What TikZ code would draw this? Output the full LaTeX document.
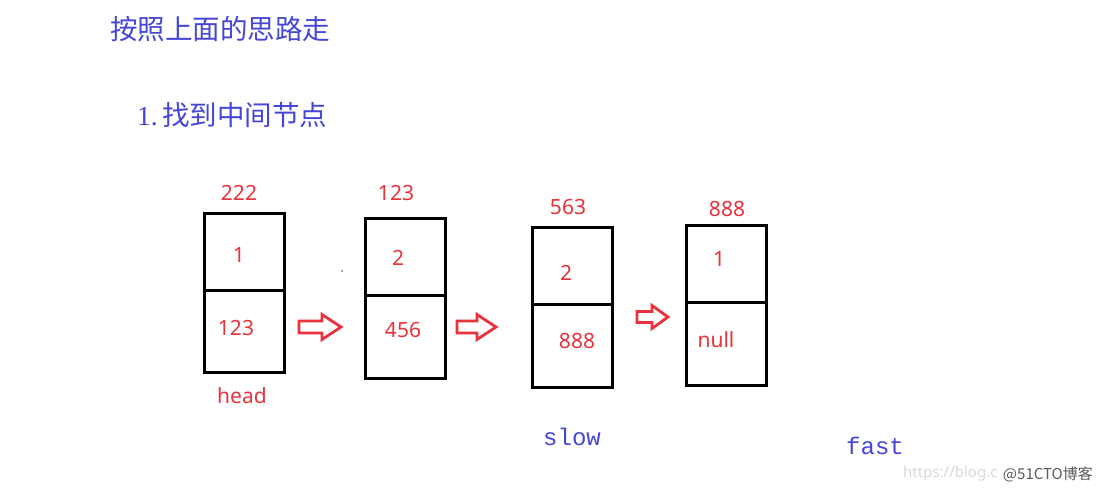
\documentclass[tikz,border=0pt]{standalone}
\usepackage{fontspec}
\setmainfont{Liberation Serif}
\newfontfamily\cjk{Noto Sans CJK SC}
\newfontfamily\numfont{Noto Sans}
\newfontfamily\monofont{Liberation Mono}
\definecolor{tblue}{HTML}{4646D6}
\definecolor{tred}{HTML}{E8323C}
\definecolor{wmlight}{HTML}{D8D8D8}
\definecolor{wmdark}{HTML}{5A5A5A}
\tikzset{
  cell/.style={draw=black, line width=3pt, inner sep=0pt, minimum width=80pt},
  num/.style={text=tred, font=\numfont\fontsize{21}{24}\selectfont, inner sep=0pt},
  title/.style={text=tblue, font=\cjk\fontsize{27.5}{30}\selectfont, inner sep=0pt, anchor=west},
  ptr/.style={text=tblue, font=\monofont\fontsize{24}{28}\selectfont, inner sep=0pt},
  blockarrow/.style={draw=tred, line width=2.8pt, line join=miter, fill=white},
}
\begin{document}
\begin{tikzpicture}[x=1pt,y=-1pt]
\useasboundingbox[fill=white] (0,0) rectangle (1102,493);

% titles
\node[title] (t1) at (110,29) {按照上面的思路走};
\node[title] (t2) at (137,115) {{\rmfamily 1.\,}找到中间节点};

% node 1
\node[cell, minimum height=77pt] (a1) at (244,251.5) {};
\node[cell, minimum height=82pt] (a2) at (244,331) {};
% node 2
\node[cell, minimum height=77pt] (b1) at (405,256.5) {};
\node[cell, minimum height=83pt] (b2) at (405,336.5) {};
% node 3
\node[cell, minimum height=77pt] (c1) at (572.5,265.5) {};
\node[cell, minimum height=83pt] (c2) at (572.5,345.5) {};
% node 4
\node[cell, minimum height=77pt] (d1) at (726.5,263.5) {};
\node[cell, minimum height=83pt] (d2) at (726.5,343.5) {};

% addresses
\node[num] (la) at (239,193) {222};
\node[num] (lb) at (396,193) {123};
\node[num] (lc) at (568,207) {563};
\node[num] (ld) at (727,209) {888};

% values
\node[num] (va1) at (239,255) {1};
\node[num] (va2) at (236,328) {123};
\node[num] (vb1) at (398,258) {2};
\node[num] (vb2) at (403,330) {456};
\node[num] (vc1) at (566,273) {2};
\node[num] (vc2) at (577,341) {888};
\node[num] (vd1) at (719,259) {1};
\node[num] (vd2) at (716,340) {null};

\node[num] (head) at (242,396) {head};
\node[ptr] (slow) at (572,437) {slow};
\node[ptr] (fast) at (875,446) {fast};

% small speck
\fill[black!70] (342,271) circle (0.9pt);

% arrows
\coordinate (ar1) at (299,327);
\coordinate (ar2) at (457,327);
\coordinate (ar3) at (637,317);
\draw[blockarrow, shift={(ar1)}] (0,-6) -- (23,-6) -- (23,-12.5) -- (42,0) -- (23,12.5) -- (23,6) -- (0,6) -- cycle;
\draw[blockarrow, shift={(ar2)}] (0,-6) -- (20,-6) -- (20,-12.5) -- (39,0) -- (20,12.5) -- (20,6) -- (0,6) -- cycle;
\draw[blockarrow, shift={(ar3)}] (0,-5.5) -- (15,-5.5) -- (15,-11.5) -- (31,0) -- (15,11.5) -- (15,5.5) -- (0,5.5) -- cycle;

% watermark
\node[inner sep=0pt, anchor=west, text=wmlight, font=\numfont\fontsize{15}{18}\selectfont] (wm1) at (903,474) {https://blog.c};
\node[inner sep=0pt, anchor=east, text=wmdark, font=\cjk\fontsize{15}{18}\selectfont] (wm2) at (1093,474) {@51CTO博客};
\end{tikzpicture}
\end{document}
